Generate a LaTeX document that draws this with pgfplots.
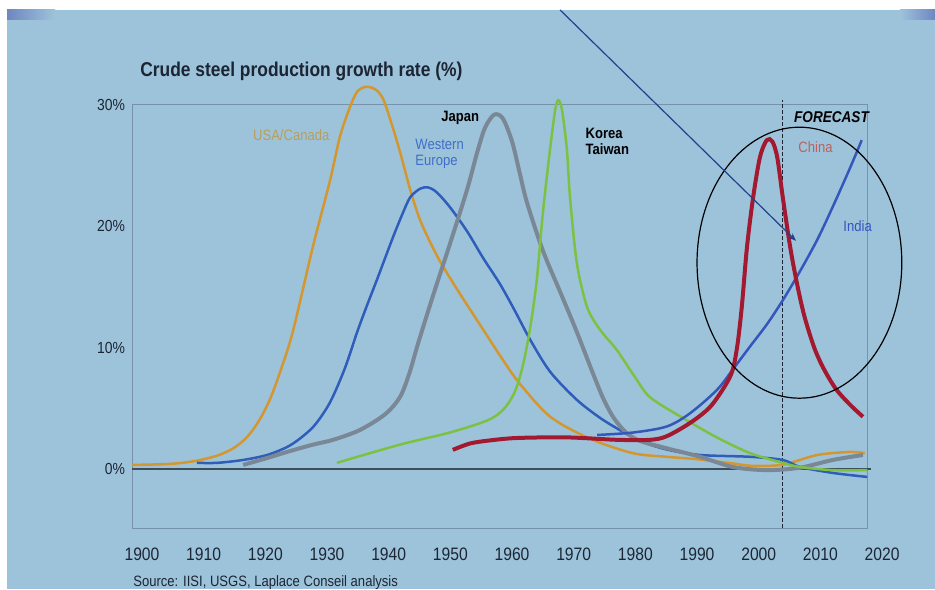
\documentclass[border=0pt]{standalone}
\usepackage{pgfplots}
\pgfplotsset{compat=1.18}
\usepackage{fontspec}
\setmainfont{Liberation Sans}[FakeStretch=0.87]
\usetikzlibrary{arrows.meta}

\definecolor{bg}{HTML}{9DC3DB}
\definecolor{corner}{HTML}{6F86C0}
\definecolor{frame}{HTML}{7892AB}
\definecolor{tickc}{HTML}{1C2533}
\definecolor{zeroc}{HTML}{3D4D5A}
\definecolor{usa}{HTML}{D4962E}
\definecolor{usalab}{HTML}{B89E5A}
\definecolor{we}{HTML}{2F5DBA}
\definecolor{welab}{HTML}{3F6FC8}
\definecolor{japan}{HTML}{7A8896}
\definecolor{korea}{HTML}{7DC143}
\definecolor{china}{HTML}{A3192F}
\definecolor{chinalab}{HTML}{C0605A}
\definecolor{india}{HTML}{3556BA}
\definecolor{arrowc}{HTML}{23408C}

\begin{document}
\begin{tikzpicture}
% slide background
\fill[white] (0,0) rectangle (467.5pt,294.5pt);
\fill[bg] (3.5pt,0) rectangle (467.5pt,289.5pt);
\shade[left color=corner, right color=bg] (3.5pt,284.5pt) rectangle (27.5pt,289.5pt);
\shade[left color=bg, right color=corner] (450pt,284.5pt) rectangle (467.5pt,289.5pt);

\node[anchor=base west, inner sep=0, text=tickc,
  font=\fontsize{10}{12}\selectfont\bfseries] at (70pt,256pt)
  {Crude steel production growth rate (\%)};
\node[anchor=base west, inner sep=0, text=tickc,
  font=\fontsize{7.5}{9}\selectfont] at (66.5pt,1.5pt)
  {Source: IISI, USGS, Laplace Conseil analysis};

\begin{axis}[
  at={(66pt,30.5pt)}, anchor=south west,
  scale only axis, width=367.5pt, height=211.5pt,
  xmin=1898.38, xmax=2017.56, ymin=-4.87, ymax=30,
  clip=false,
  axis line style={draw=frame, line width=0.5pt},
  tick style={draw=none},
  xtick={1900,1910,...,2010},
  ytick={0,10,20,30},
  yticklabels={0\%,10\%,20\%,30\%},
  /pgf/number format/1000 sep={},
  /pgf/number format/assume math mode=true,
  xticklabel style={font=\fontsize{9}{10}\selectfont, text=tickc, yshift=-6.25pt},
  yticklabel style={font=\fontsize{8}{10}\selectfont, text=tickc},
  every axis plot/.append style={smooth, tension=0.5},
]
% zero line and forecast marker
\addplot[zeroc, line width=1pt, sharp plot] coordinates {(1898.38,0) (2018.2,0)};
\addplot[tickc, line width=0.5pt, dash pattern=on 2pt off 1pt, sharp plot]
  coordinates {(2003.8,-4.87) (2003.8,30.4)};

% USA/Canada
\addplot[usa, line width=1.25pt] coordinates {
 (1898.4,0.33) (1904.1,0.4) (1907.3,0.55) (1910.0,0.8) (1912.5,1.15)
 (1914.8,1.7) (1917.0,2.6) (1919.0,4.0) (1920.8,5.8) (1922.6,8.3)
 (1924.5,11.4) (1927.7,18.3) (1930.5,23.8) (1932.1,27.4) (1933.7,29.8)
 (1934.9,31.1) (1936.3,31.5) (1937.8,31.3) (1939.0,30.6) (1940.2,28.9)
 (1941.8,26.2) (1943.5,23.0) (1945.1,20.5) (1947.2,18.2) (1948.8,16.7)
 (1951.6,14.4) (1955.3,11.5) (1958.5,9.0) (1961.3,7.0) (1966.2,4.3)
 (1972.6,2.5) (1979.6,1.3) (1985.1,1.0) (1990.0,0.8) (1995.8,0.45)
 (1999.0,0.25) (2003.9,0.35) (2009.5,1.15) (2014.8,1.4) (2017.2,1.3)};

% Western Europe
\addplot[we, line width=1.25pt] coordinates {
 (1908.9,0.5) (1912.2,0.5) (1916.4,0.74) (1920.3,1.15) (1923.5,1.8)
 (1925.6,2.5) (1928.0,3.6) (1930.5,5.5) (1932.9,8.3) (1934.9,11.3)
 (1936.5,13.5) (1938.1,15.6) (1940.7,19.1) (1942.3,21.1) (1943.5,22.4)
 (1945.1,23.1) (1946.4,23.2) (1947.8,22.8) (1949.9,21.6) (1952.7,19.6)
 (1955.3,17.4) (1958.1,15.2) (1960.5,13.0) (1963.0,10.6) (1966.2,8.0)
 (1970.5,5.7) (1974.3,4.2) (1977.5,3.2) (1980.8,2.3) (1985.1,1.6)
 (1990.5,1.15) (1998.6,1.0) (2003.9,0.74) (2006.7,0.16) (2012.0,-0.33)
 (2017.6,-0.66)};

% Japan
\addplot[japan, line width=2pt] coordinates {
 (1916.4,0.33) (1920.3,0.9) (1923.5,1.4) (1927.7,2.0) (1931.0,2.4)
 (1935.3,3.2) (1939.4,4.5) (1941.8,5.9) (1943.3,7.8) (1944.8,10.4)
 (1947.2,14.3) (1949.9,18.5) (1952.7,23.0) (1954.3,26.0) (1955.6,28.1)
 (1957.1,29.2) (1958.5,28.9) (1960.0,27.0) (1961.2,24.5) (1962.4,22.0)
 (1965.0,18.0) (1967.8,14.6) (1970.5,11.3) (1973.1,7.9) (1974.8,5.8)
 (1976.5,4.2) (1978.5,3.0) (1980.8,2.3) (1985.1,1.7) (1990.5,1.0)
 (1995.8,0.16) (2001.3,-0.1) (2006.7,0.1) (2012.0,0.74) (2016.9,1.15)};

% Korea / Taiwan
\addplot[korea, line width=1.25pt] coordinates {
 (1931.6,0.5) (1941.8,2.0) (1949.9,3.0) (1956.0,4.0) (1958.6,4.9)
 (1960.4,6.3) (1961.7,8.4) (1962.9,11.5) (1964.0,15.5) (1965.0,21.1)
 (1966.2,26.5) (1967.0,29.6) (1967.5,30.4) (1968.1,29.6) (1968.9,26.3)
 (1969.4,22.4) (1970.5,17.0) (1972.0,13.6) (1973.3,12.2) (1975.0,11.0)
 (1977.0,9.8) (1979.9,7.6) (1982.4,5.9) (1987.7,4.2) (1993.2,2.6)
 (1998.6,1.3) (2003.9,0.5) (2006.7,0.16) (2012.0,-0.1) (2017.6,-0.1)};

% India
\addplot[india, line width=1.25pt] coordinates {
 (1973.8,2.8) (1979.6,3.0) (1985.1,3.5) (1988.9,4.6) (1993.2,6.5)
 (1995.8,8.2) (1998.6,10.1) (2001.3,11.9) (2003.9,13.9) (2006.7,16.3)
 (2009.5,18.9) (2012.0,21.6) (2014.8,24.8) (2016.7,27.1)};

% China
\addplot[china, line width=2pt] coordinates {
 (1950.4,1.57) (1953.2,2.1) (1956.4,2.35) (1960.8,2.55) (1968.9,2.6)
 (1977.0,2.4) (1982.4,2.4) (1985.1,2.7) (1988.9,3.8) (1992.1,5.1)
 (1994.6,6.9) (1995.8,8.2) (1996.6,10.4) (1997.3,13.6) (1998.1,18.3)
 (1999.1,22.4) (2000.2,25.7) (2001.3,27.1) (2002.2,27.0) (2003.0,25.7)
 (2003.9,22.4) (2005.1,18.3) (2006.2,15.3) (2007.4,12.6) (2009.0,10.0)
 (2010.5,8.3) (2012.5,6.6) (2014.8,5.3) (2016.9,4.3)};

% last x label sits past the axis end
\node[anchor=north, text=tickc, font=\fontsize{9}{10}\selectfont, yshift=-6.25pt]
  at (axis cs:2020,-4.87) {2020};

% series labels
\node[text=usalab, font=\fontsize{7.5}{9}\selectfont] at (axis cs:1924.2,27.5) {USA/Canada};
\node[anchor=west, align=left, text=welab, font=\fontsize{7.5}{8}\selectfont]
  at (axis cs:1943.2,26.0) {Western\\Europe};
\node[text=black, font=\fontsize{7.5}{9}\selectfont\bfseries] at (axis cs:1951.6,28.9) {Japan};
\node[anchor=west, align=left, text=black, font=\fontsize{7.5}{8}\selectfont\bfseries]
  at (axis cs:1970.8,27.0) {Korea\\Taiwan};
\node[anchor=west, text=black, font=\fontsize{7.8}{9}\selectfont\bfseries\itshape]
  at (axis cs:2004.6,29.0) {FORECAST};
\node[anchor=west, text=chinalab, font=\fontsize{7.5}{9}\selectfont] at (axis cs:2005.3,26.5) {China};
\node[anchor=west, text=india, font=\fontsize{7.5}{9}\selectfont] at (axis cs:2012.6,20.0) {India};

% annotation
\draw[black, line width=0.6pt] (axis cs:2006.6,17.0) ellipse [x radius=16.6, y radius=11.17];
\draw[arrowc, line width=0.6pt, -{Stealth[length=4pt,width=3pt]}]
  (axis cs:1967.78,37.84) -- (axis cs:2006.05,18.8);
\end{axis}
\pgfresetboundingbox
\path (0,0) rectangle (467.5pt,294.5pt);
\end{tikzpicture}
\end{document}
